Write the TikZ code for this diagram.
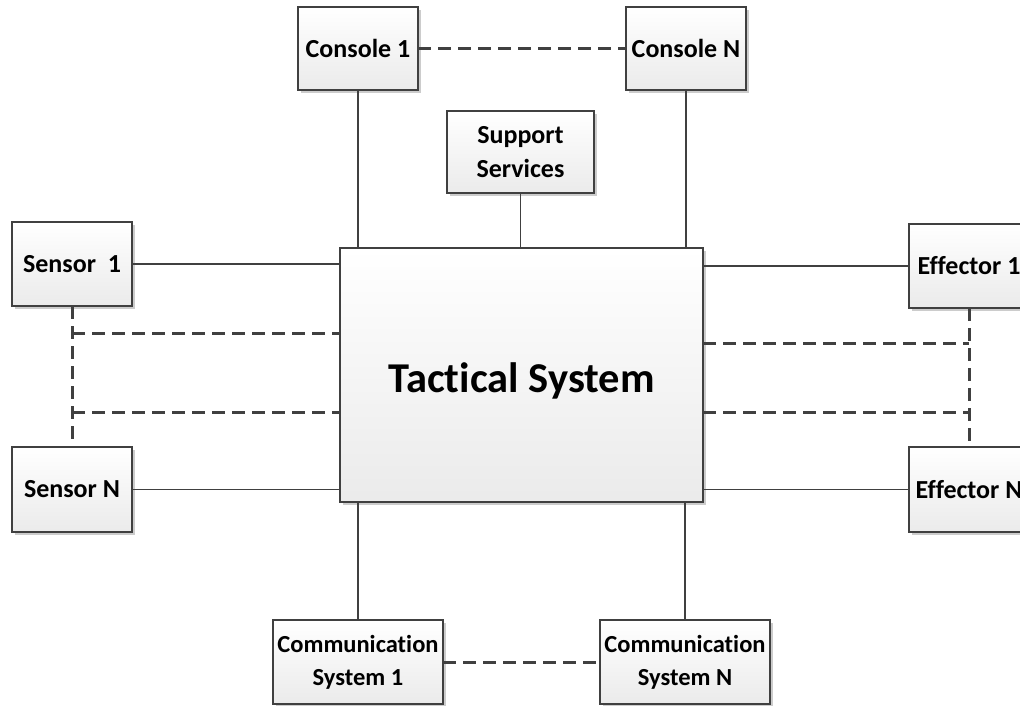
\documentclass[tikz,border=0pt]{standalone}
\usepackage{fontspec}
\setmainfont{Carlito}[Ligatures=NoCommon]
\usetikzlibrary{shadows}
\definecolor{edge}{HTML}{404040}
\tikzset{
  box/.style={draw=edge, line width=1.3pt, top color=white, bottom color=black!8,
    drop shadow={shadow xshift=3pt, shadow yshift=-3pt, fill=black!20, opacity=1},
    inner sep=0pt, outer sep=0pt, align=center,
    font=\fontsize{26}{34}\selectfont\bfseries},
  commbox/.style={box, font=\fontsize{24.5}{33}\selectfont\bfseries},
  link/.style={draw=edge, line width=1.3pt},
  dlink/.style={draw=edge, line width=3pt, dash pattern=on 13pt off 7pt},
}
\begin{document}
\begin{tikzpicture}[x=1pt,y=-1pt]
\useasboundingbox (0,0) rectangle (1020,705);
\node[box, minimum width=120pt, minimum height=83pt] (con1) at (358,48.5) {Console 1};
\node[box, minimum width=120pt, minimum height=83pt] (conN) at (686,48.5) {Console N};
\node[box, minimum width=147pt, minimum height=82pt] (sup) at (520.5,152) {Support\\Services};
\node[box, minimum width=363pt, minimum height=254pt, font=\fontsize{42.5}{48}\selectfont\bfseries] (tac) at (521.5,375) {\raisebox{-6pt}[\height][\depth]{Tactical System}};
\node[box, minimum width=120pt, minimum height=84pt] (s1) at (72,264) {Sensor\ \ 1};
\node[box, minimum width=120pt, minimum height=85pt] (sN) at (72,489.5) {Sensor N};
\node[box, minimum width=120pt, minimum height=84pt] (e1) at (969,266) {Effector 1};
\node[box, minimum width=120pt, minimum height=85pt] (eN) at (969,489.5) {Effector N};
\node[commbox, minimum width=170pt, minimum height=84pt] (c1) at (358,662) {Communication\\System 1};
\node[commbox, minimum width=170pt, minimum height=84pt] (cN) at (685,662) {Communication\\System N};
% solid links
\draw[link] (con1.south) -- (con1.south |- tac.north);
\draw[link] (conN.south) -- (conN.south |- tac.north);
\draw[link] (sup.south) -- (sup.south |- tac.north);
\draw[link] (s1.east) -- (s1.east -| tac.west);
\draw[link] (sN.east) -- (sN.east -| tac.west);
\draw[link] (e1.west) -- (e1.west -| tac.east);
\draw[link] (eN.west) -- (eN.west -| tac.east);
\draw[link] (c1.north) -- (c1.north |- tac.south);
\draw[link] (cN.north) -- (cN.north |- tac.south);
% dashed links
\draw[dlink] (con1.east) -- (conN.west);
\draw[dlink] (c1.east) -- (cN.west);
\draw[dlink] (s1.south) -- (sN.north);
\draw[dlink] (e1.south) -- (eN.north);
\coordinate (la) at (72,333);
\coordinate (lb) at (72,412);
\coordinate (ra) at (969,343);
\coordinate (rb) at (969,412);
\draw[dlink] (la) -- (la -| tac.west);
\draw[dlink] (lb) -- (lb -| tac.west);
\draw[dlink] (ra -| tac.east) -- (ra);
\draw[dlink] (rb -| tac.east) -- (rb);
\end{tikzpicture}
\end{document}
